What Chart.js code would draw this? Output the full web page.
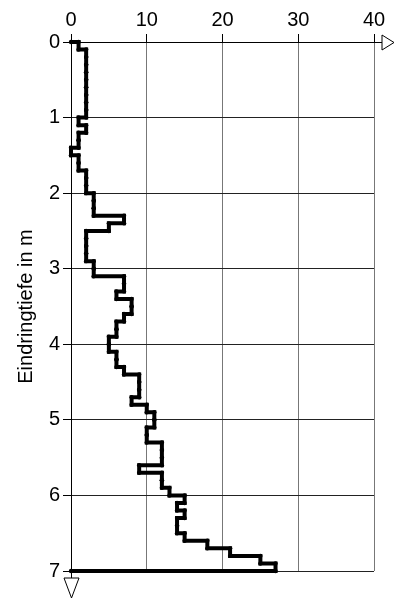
<!DOCTYPE html>
<html>
<head>
<meta charset="utf-8">
<script src="https://cdn.jsdelivr.net/npm/chart.js@4/dist/chart.umd.min.js"></script>
<style>
  html, body { margin: 0; padding: 0; background: #fff; }
</style>
</head>
<body>
<canvas id="sounding-chart" width="395" height="600"></canvas>
<script>
// blow counts per 10 cm of penetration, from 0.0 m down to 7.0 m
const stepDepth = 0.1;
const blows = [
  1, 2, 2, 2, 2, 2, 2, 2, 2, 2,       // 0 - 1 m
  1, 2, 1, 1, 0, 1, 1, 2, 2, 2,       // 1 - 2 m
  3, 3, 3, 7, 5, 2, 2, 2, 2, 3,       // 2 - 3 m
  3, 7, 7, 6, 8, 8, 7, 6, 6, 5,       // 3 - 4 m
  5, 6, 6, 7, 9, 9, 9, 8, 10, 11,     // 4 - 5 m
  11, 10, 10, 12, 12, 12, 9, 12, 12, 13, // 5 - 6 m
  15, 14, 15, 14, 14, 15, 18, 21, 25, 27  // 6 - 7 m
];
const xTicks = [0, 10, 20, 30, 40];
const depthTicks = [0, 1, 2, 3, 4, 5, 6, 7];
const yTitle = 'Eindringtiefe in m';

// step line: each 10 cm interval is a vertical piece at its blow count
const points = [{ x: 0, y: 0 }];
blows.forEach((n, i) => {
  const top = +(i * stepDepth).toFixed(1);
  points.push({ x: n, y: top }, { x: n, y: +(top + stepDepth).toFixed(1) });
});
points.push({ x: 0, y: +(blows.length * stepDepth).toFixed(1) });

// open triangles at the ends of the axes
const axisArrows = {
  id: 'axisArrows',
  afterDraw(chart) {
    const { ctx, chartArea: a } = chart;
    const top = Math.round(a.top) + 0.5;
    const left = Math.round(a.left) + 0.5;
    const right = Math.round(a.right);
    const bottom = Math.round(a.bottom);
    ctx.save();
    ctx.strokeStyle = '#000';
    ctx.lineWidth = 1;
    ctx.beginPath();
    ctx.moveTo(right, top);
    ctx.lineTo(right + 8, top);
    ctx.moveTo(right + 8, top - 7.5);
    ctx.lineTo(right + 20, top);
    ctx.lineTo(right + 8, top + 7.5);
    ctx.closePath();
    ctx.moveTo(left, bottom);
    ctx.lineTo(left, bottom + 7);
    ctx.moveTo(left - 7.5, bottom + 7);
    ctx.lineTo(left, bottom + 27);
    ctx.lineTo(left + 7.5, bottom + 7);
    ctx.closePath();
    ctx.stroke();
    ctx.restore();
  }
};

Chart.defaults.font.family = 'Arial, "Liberation Sans", sans-serif';
Chart.defaults.font.size = 20;
Chart.defaults.color = '#000';

new Chart('sounding-chart', {
  type: 'scatter',
  data: {
    datasets: [{
      data: points,
      showLine: true,
      borderColor: '#000',
      borderWidth: 4,
      pointRadius: 2.2,
      pointBackgroundColor: '#000',
      pointBorderWidth: 0,
      clip: false
    }]
  },
  options: {
    responsive: false,
    animation: false,
    layout: { padding: { left: 0, top: 0, right: 21, bottom: 29 } },
    plugins: {
      legend: { display: false },
      tooltip: { enabled: false }
    },
    scales: {
      x: {
        type: 'linear',
        position: 'top',
        min: 0,
        max: 40,
        afterBuildTicks: s => { s.ticks = xTicks.map(v => ({ value: v })); },
        afterFit: s => { s.height = 42; },
        ticks: { padding: 2, font: { size: 20 } },
        grid: { color: '#777', tickColor: '#000', tickLength: 8 },
        border: { color: '#000', width: 1 }
      },
      y: {
        type: 'linear',
        reverse: true,
        min: 0,
        max: 7,
        afterBuildTicks: s => { s.ticks = depthTicks.map(v => ({ value: v })); },
        afterFit: s => { s.width = 71; },
        ticks: { padding: 3, font: { size: 20 } },
        grid: { color: '#222', tickColor: '#000', tickLength: 8 },
        border: { color: '#000', width: 1 },
        title: {
          display: true,
          text: yTitle,
          font: { size: 20 },
          padding: { top: 14, bottom: 0 }
        }
      }
    }
  },
  plugins: [axisArrows]
});
</script>
</body>
</html>
